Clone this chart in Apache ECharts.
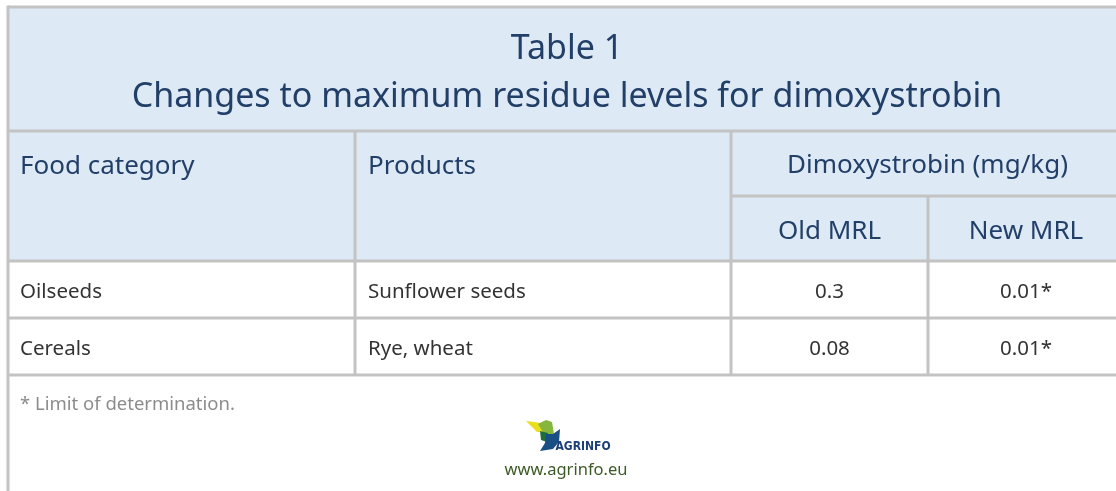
<!DOCTYPE html>
<html>
<head>
<meta charset="utf-8">
<script src="https://cdn.jsdelivr.net/npm/echarts@6/dist/echarts.min.js"></script>
<style>html,body{margin:0;padding:0;background:#fff;}#c{width:1116px;height:491px;}</style>
</head>
<body>
<div id="c"></div>
<script>
// ---- data ----
var titleLines = ['Table 1', 'Changes to maximum residue levels for dimoxystrobin'];
var headerLabels = ['Food category', 'Products', 'Dimoxystrobin (mg/kg)'];
var subHeaderLabels = ['Old MRL', 'New MRL'];
var foodCategories = ['Oilseeds', 'Cereals'];
var products = ['Sunflower seeds', 'Rye, wheat'];
var oldMRL = ['0.3', '0.08'];
var newMRL = ['0.01*', '0.01*'];
var footnote = '* Limit of determination.';
var website = 'www.agrinfo.eu';
var logoText = 'AGRINFO';

// ---- layout (pixel space of hidden axes) ----
var L = {
  left: 8, right: 1124, top: 7,
  titleBottom: 131, headBottom: 261, subHead: 196,
  rowLines: [261, 318, 375],
  col: [8, 355, 731, 928, 1124]
};
var FONT = '"Noto Sans", sans-serif';
var LINE = '#c3c3c3', HEADBG = '#dde9f5', NAVY = '#223f68', BODY = '#333333';

function renderItem(params, api) {
  var P = function (x, y) { return api.coord([x, y]); };
  var kids = [];
  function rect(x0, y0, x1, y1, fill) {
    var a = P(x0, y0), b = P(x1, y1);
    kids.push({type: 'rect', shape: {x: a[0], y: a[1], width: b[0] - a[0], height: b[1] - a[1]}, style: {fill: fill}});
  }
  function line(x0, y0, x1, y1) {
    var a = P(x0, y0), b = P(x1, y1);
    kids.push({type: 'line', shape: {x1: a[0], y1: a[1], x2: b[0], y2: b[1]}, style: {stroke: LINE, lineWidth: 3}});
  }
  function text(s, x, y, size, color, align, weight, family) {
    var a = P(x, y);
    kids.push({type: 'text', x: a[0], y: a[1], style: {text: s, fill: color, font: (weight || 'normal') + ' ' + size + 'px ' + (family || FONT), textAlign: align || 'left', textVerticalAlign: 'middle'}});
  }
  // backgrounds
  rect(L.left, L.top, L.right, L.headBottom, HEADBG);
  // title
  text(titleLines[0], 567, 49, 34, NAVY, 'center');
  text(titleLines[1], 567, 97, 34, NAVY, 'center');
  // header
  text(headerLabels[0], 20, 167, 26, NAVY);
  text(headerLabels[1], 368, 167, 26, NAVY);
  text(headerLabels[2], (L.col[2] + L.col[4]) / 2, 166, 26, NAVY, 'center');
  text(subHeaderLabels[0], (L.col[2] + L.col[3]) / 2, 232, 26, NAVY, 'center');
  text(subHeaderLabels[1], (L.col[3] + L.col[4]) / 2, 232, 26, NAVY, 'center');
  // rows
  for (var i = 0; i < foodCategories.length; i++) {
    var yc = (L.rowLines[i] + L.rowLines[i + 1]) / 2 + 3;
    text(foodCategories[i], 20, yc, 20.5, BODY);
    text(products[i], 368, yc, 20.5, BODY);
    text(oldMRL[i], (L.col[2] + L.col[3]) / 2, yc, 20.5, BODY, 'center');
    text(newMRL[i], (L.col[3] + L.col[4]) / 2, yc, 20.5, BODY, 'center');
  }
  // grid lines
  line(L.left, L.top, L.right, L.top);
  line(L.left, L.top - 1.5, L.left, 491);
  line(L.left, L.titleBottom, L.right, L.titleBottom);
  line(L.col[2], L.subHead, L.right, L.subHead);
  L.rowLines.forEach(function (y) { line(L.left, y, L.right, y); });
  line(L.col[1], L.titleBottom, L.col[1], L.rowLines[2]);
  line(L.col[2], L.titleBottom, L.col[2], L.rowLines[2]);
  line(L.col[3], L.subHead, L.col[3], L.rowLines[2]);
  // footer
  text(footnote, 20, 405, 18.5, '#8c8c8c');
  // logo
  var pts = function (arr) { return arr.map(function (p) { return P(p[0], p[1]); }); };
  kids.push({type: 'polygon', shape: {points: pts([[526, 421], [541, 423], [545, 432], [537, 432]])}, style: {fill: '#e8de1c'}});
  kids.push({type: 'polygon', shape: {points: pts([[538, 424], [546, 420], [552, 422], [554, 434], [544, 434]])}, style: {fill: '#86b63c'}});
  kids.push({type: 'polygon', shape: {points: pts([[540, 431], [548, 433], [547, 442], [541, 440]])}, style: {fill: '#1e6e3a'}});
  kids.push({type: 'polygon', shape: {points: pts([[546, 434], [553, 434], [560, 429], [559, 442], [553, 449], [540, 451], [545, 443]])}, style: {fill: '#1a4f86'}});
  text(logoText, 583, 447, 12, '#1d3f78', 'center', 'bold', '"DejaVu Sans Condensed", "Liberation Sans Narrow", sans-serif');
  text(website, 566, 470, 16.5, '#3d5a26', 'center');
  return {type: 'group', children: kids};
}

var chart = echarts.init(document.getElementById('c'), null, {renderer: 'canvas'});
chart.setOption({
  animation: false,
  backgroundColor: '#ffffff',
  grid: {left: 0, top: 0, width: 1116, height: 491},
  xAxis: {type: 'value', min: 0, max: 1116, show: false},
  yAxis: {type: 'value', min: 0, max: 491, inverse: true, show: false},
  series: [{
    type: 'custom',
    coordinateSystem: 'cartesian2d',
    clip: false,
    data: [[0, 0]],
    renderItem: renderItem
  }]
});
</script>
</body>
</html>
